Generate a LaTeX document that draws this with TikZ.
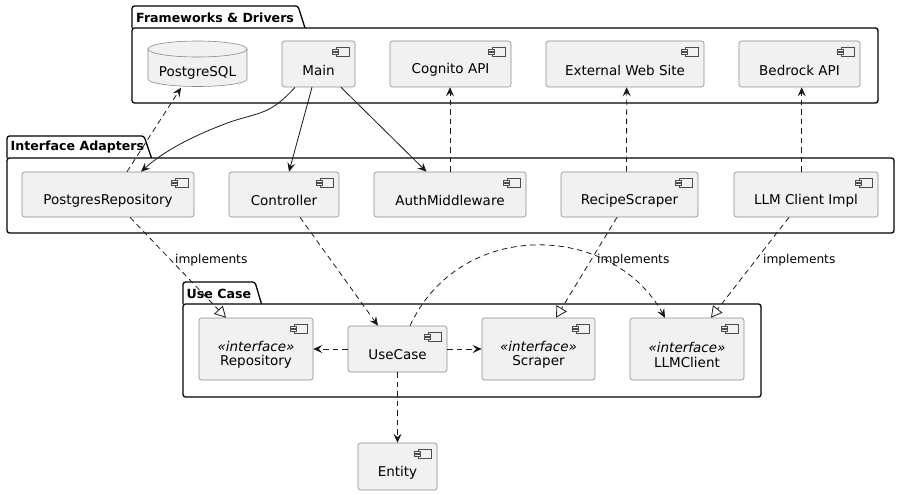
\documentclass[tikz,border=0pt]{standalone}
\usepackage{fontspec}
\setmainfont{DejaVu Sans}[ItalicFont={DejaVu Sans Oblique},BoldFont={DejaVu Sans Bold}]
\usetikzlibrary{arrows.meta,calc}
\definecolor{boxfill}{HTML}{F1F1F1}
\definecolor{edgecol}{HTML}{181818}
\definecolor{boxline}{HTML}{8A8A8A}
\begin{document}
\begin{tikzpicture}[x=1pt,y=-1pt,
  pkg/.style={draw=black,line width=1.3pt,line join=round},
  pkgtitle/.style={anchor=west,inner sep=0pt,font=\fontsize{12.6}{15}\selectfont\bfseries},
  comp/.style={draw=boxline,line width=0.6pt,fill=boxfill,rounded corners=2.5pt,inner sep=0pt,
    path picture={
      \draw[sharp corners,draw=black!70,line width=0.5pt,fill=boxfill]
        ([shift={(-19pt,-6.7pt)}]path picture bounding box.north east) rectangle ([shift={(-6pt,-15pt)}]path picture bounding box.north east);
      \draw[sharp corners,draw=black!70,line width=0.5pt,fill=boxfill]
        ([shift={(-22.3pt,-8.4pt)}]path picture bounding box.north east) rectangle ([shift={(-16.5pt,-10.4pt)}]path picture bounding box.north east);
      \draw[sharp corners,draw=black!70,line width=0.5pt,fill=boxfill]
        ([shift={(-22.3pt,-11.5pt)}]path picture bounding box.north east) rectangle ([shift={(-16.5pt,-13.5pt)}]path picture bounding box.north east);
    }},
  lbl/.style={font=\fontsize{13.5}{16}\selectfont,yshift=-6pt,inner sep=0pt},
  lbltwo/.style={font=\fontsize{13.5}{14.5}\selectfont,align=center,yshift=-6pt,inner sep=0pt},
  note/.style={anchor=west,inner sep=0pt,font=\fontsize{12.2}{14}\selectfont},
  conn/.style={draw=edgecol,line width=0.8pt,-{Stealth[length=9pt,width=8pt,inset=3.5pt]}},
  dconn/.style={conn,dash pattern=on 5.5pt off 4pt},
  impl/.style={draw=edgecol,line width=0.8pt,dash pattern=on 5.5pt off 4pt,-{Triangle[open,length=11pt,width=12pt]}}
]
\useasboundingbox (0,0) rectangle (900,495);

% packages
\draw[pkg,rounded corners=2.5pt] (132,28) rectangle (878,103);
\draw[pkg,rounded corners=2.5pt] (132,28) -- (132,6) -- (298,6) -- (305,28);
\node[pkgtitle] (fdt) at (136,17.5) {Frameworks \& Drivers};

\draw[pkg,rounded corners=2.5pt] (7,158) rectangle (894,233);
\draw[pkg,rounded corners=2.5pt] (7,158) -- (7,136) -- (144,136) -- (151.5,158);
\node[pkgtitle] (iat) at (10.5,147) {Interface Adapters};

\draw[pkg,rounded corners=2.5pt] (183,304) rectangle (761,397);
\draw[pkg,rounded corners=2.5pt] (183,304) -- (183,282) -- (255,282) -- (261.5,304);
\node[pkgtitle] (uct) at (186.5,293.5) {Use Case};

% PostgreSQL cylinder
\node[minimum width=99pt,minimum height=46pt,inner sep=0pt] (pg) at (197.5,64) {};
\fill[boxfill] (148,49) rectangle (247,79);
\fill[boxfill] (197.5,79) ellipse [x radius=49.5pt,y radius=7.5pt];
\draw[boxline,line width=0.6pt,fill=boxfill] (197.5,49) ellipse [x radius=49.5pt,y radius=8pt];
\draw[boxline,line width=0.6pt] (148,49) -- (148,79) arc[start angle=180,end angle=360,x radius=49.5pt,y radius=7.5pt] -- (247,49);
\node[font=\fontsize{13.5}{16}\selectfont,inner sep=0pt] (pglbl) at (197.5,73) {PostgreSQL};

% frameworks
\node[comp,minimum width=73pt,minimum height=46pt,label={[lbl]center:Main}] (main) at (318.5,64) {};
\node[comp,minimum width=121pt,minimum height=46pt,label={[lbl]center:Cognito API}] (cog) at (450.5,64) {};
\node[comp,minimum width=158pt,minimum height=46pt,label={[lbl]center:External Web Site}] (ext) at (625,64) {};
\node[comp,minimum width=121pt,minimum height=46pt,label={[lbl]center:Bedrock API}] (bed) at (799.5,64) {};

% adapters
\node[comp,minimum width=172pt,minimum height=45pt,label={[lbl]center:PostgresRepository}] (pgrepo) at (108,194.5) {};
\node[comp,minimum width=110pt,minimum height=45pt,label={[lbl]center:Controller}] (ctrl) at (284,194.5) {};
\node[comp,minimum width=152pt,minimum height=45pt,label={[lbl]center:AuthMiddleware}] (auth) at (450,194.5) {};
\node[comp,minimum width=137pt,minimum height=45pt,label={[lbl]center:RecipeScraper}] (recipe) at (629.5,194.5) {};
\node[comp,minimum width=144pt,minimum height=45pt,label={[lbl]center:LLM Client Impl}] (llmimpl) at (806,194.5) {};

% use case
\node[comp,minimum width=114pt,minimum height=62pt,label={[lbltwo]center:{\textit{«interface»}\\Repository}}] (repo) at (256,349) {};
\node[comp,minimum width=99pt,minimum height=46pt,label={[lbl]center:UseCase}] (uc) at (397.5,349) {};
\node[comp,minimum width=113pt,minimum height=62pt,label={[lbltwo]center:{\textit{«interface»}\\Scraper}}] (scr) at (538.5,349) {};
\node[comp,minimum width=114pt,minimum height=62pt,label={[lbltwo]center:{\textit{«interface»}\\LLMClient}}] (llmc) at (687,349) {};

\node[comp,minimum width=79pt,minimum height=47pt,label={[lbl]center:Entity}] (ent) at (397.5,466.5) {};

% connectors
\draw[dconn] ([xshift=19pt]pgrepo.north) -- ([xshift=-16.5pt,yshift=-0.5pt]pg.south);
\draw[conn] ([xshift=-23.5pt]main.south) .. controls (270,115) and (260,112) .. (230,122) .. controls (195,135) and (165,150) .. ([xshift=33pt]pgrepo.north);
\draw[conn] ([xshift=-6.5pt]main.south) -- ([xshift=5pt]ctrl.north);
\draw[conn] ([xshift=22.5pt]main.south) -- ([xshift=-23.5pt]auth.north);
\draw[dconn] (auth.north) -- (auth.north |- cog.south);
\draw[dconn] ([xshift=-3pt]recipe.north) -- ([xshift=1.7pt]ext.south);
\draw[dconn] ([xshift=-4.3pt]llmimpl.north) -- ([xshift=2.2pt]bed.south);

\draw[impl] ([xshift=22pt]pgrepo.south) -- ([xshift=-30pt]repo.north);
\node[note] (impl1) at (175,260) {implements};
\draw[dconn] ([xshift=16pt]ctrl.south) -- ([xshift=-19.5pt]uc.north);
\draw[impl] ([xshift=-12.5pt]recipe.south) -- ([xshift=17.5pt]scr.north);
\node[note] (impl2) at (597,260) {implements};
\draw[impl] ([xshift=-17pt]llmimpl.south) -- ([xshift=24pt]llmc.north);
\node[note] (impl3) at (763,260) {implements};

\draw[dconn] ([xshift=12.5pt]uc.north) .. controls (460,218) and (612,222) .. ([xshift=-22pt]llmc.north);
\draw[dconn] (uc.west) -- (repo.east);
\draw[dconn] (uc.east) -- (scr.west);
\draw[dconn] (uc.south) -- (ent.north);
\end{tikzpicture}
\end{document}
